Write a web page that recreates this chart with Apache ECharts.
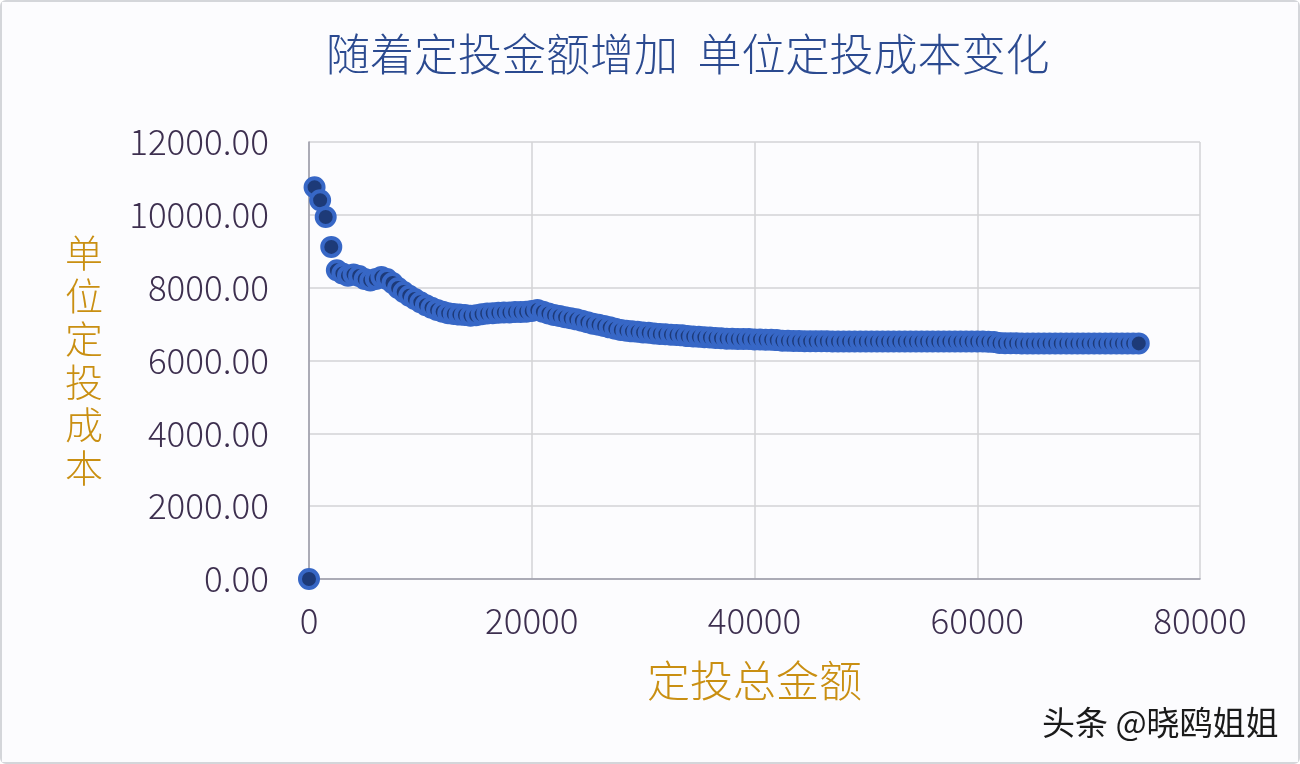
<!DOCTYPE html>
<html>
<head>
<meta charset="utf-8">
<script src="https://cdn.jsdelivr.net/npm/echarts@6/dist/echarts.min.js"></script>
<style>
html,body{margin:0;padding:0;background:#fff;}
#wrap{position:absolute;left:0;top:0;width:1296px;height:760px;border:2px solid #d4d6da;border-radius:6px;background:#fcfcfe;}
#chart{width:1296px;height:760px;}
</style>
</head>
<body>
<div id="wrap"><div id="chart"></div></div>
<script>
// Data
const totalAmount = [
  0, 500, 1000, 1500, 2000, 2500, 3000, 3500, 4000, 4500,
  5000, 5500, 6000, 6500, 7000, 7500, 8000, 8500, 9000, 9500,
  10000, 10500, 11000, 11500, 12000, 12500, 13000, 13500, 14000, 14500,
  15000, 15500, 16000, 16500, 17000, 17500, 18000, 18500, 19000, 19500,
  20000, 20500, 21000, 21500, 22000, 22500, 23000, 23500, 24000, 24500,
  25000, 25500, 26000, 26500, 27000, 27500, 28000, 28500, 29000, 29500,
  30000, 30500, 31000, 31500, 32000, 32500, 33000, 33500, 34000, 34500,
  35000, 35500, 36000, 36500, 37000, 37500, 38000, 38500, 39000, 39500,
  40000, 40500, 41000, 41500, 42000, 42500, 43000, 43500, 44000, 44500,
  45000, 45500, 46000, 46500, 47000, 47500, 48000, 48500, 49000, 49500,
  50000, 50500, 51000, 51500, 52000, 52500, 53000, 53500, 54000, 54500,
  55000, 55500, 56000, 56500, 57000, 57500, 58000, 58500, 59000, 59500,
  60000, 60500, 61000, 61500, 62000, 62500, 63000, 63500, 64000, 64500,
  65000, 65500, 66000, 66500, 67000, 67500, 68000, 68500, 69000, 69500,
  70000, 70500, 71000, 71500, 72000, 72500, 73000, 73500, 74000, 74500
];
const unitCost = [
  0, 10760, 10400, 9940, 9120, 8480, 8390, 8330, 8360, 8320,
  8240, 8200, 8240, 8290, 8240, 8130, 7990, 7880, 7780, 7690,
  7600, 7520, 7450, 7390, 7340, 7300, 7280, 7260, 7250, 7230,
  7240, 7270, 7290, 7300, 7310, 7320, 7320, 7330, 7330, 7340,
  7360, 7390, 7340, 7290, 7250, 7220, 7190, 7160, 7130, 7090,
  7050, 7010, 6980, 6950, 6910, 6870, 6840, 6820, 6800, 6790,
  6770, 6760, 6740, 6730, 6720, 6710, 6700, 6690, 6670, 6660,
  6650, 6640, 6630, 6620, 6610, 6600, 6600, 6590, 6590, 6590,
  6580, 6580, 6570, 6570, 6560, 6540, 6540, 6535, 6535, 6530,
  6530, 6530, 6530, 6530, 6525, 6525, 6525, 6525, 6525, 6525,
  6525, 6525, 6525, 6520, 6520, 6520, 6520, 6520, 6520, 6520,
  6520, 6520, 6520, 6520, 6520, 6520, 6520, 6520, 6520, 6520,
  6520, 6520, 6515, 6510, 6480, 6475, 6475, 6475, 6470, 6470,
  6470, 6470, 6470, 6470, 6470, 6470, 6470, 6470, 6470, 6470,
  6470, 6470, 6470, 6470, 6470, 6470, 6470, 6470, 6470, 6470
];
const xTicks = [0, 20000, 40000, 60000, 80000];
const yTicks = [0, 2000, 4000, 6000, 8000, 10000, 12000];

const chartTitle = '随着定投金额增加  单位定投成本变化';
const xName = '定投总金额';
const yName = '单位定投成本';
const watermark = '头条 @晓鸥姐姐';

const points = totalAmount.map((x, i) => [x, unitCost[i]]);
const FONT = '"Noto Sans CJK SC", "Noto Sans", sans-serif';

const chart = echarts.init(document.getElementById('chart'), null, {renderer: 'canvas'});
chart.setOption({
  backgroundColor: '#fcfcfe',
  animation: false,
  title: {
    text: chartTitle,
    left: 319,
    top: 25,
    textStyle: {fontFamily: FONT, fontSize: 44, fontWeight: 300, color: '#2b4a90'}
  },
  grid: {left: 307, right: 98, top: 140, bottom: 183, containLabel: false},
  xAxis: {
    type: 'value',
    min: xTicks[0],
    max: xTicks[xTicks.length - 1],
    interval: 20000,
    name: xName,
    nameLocation: 'middle',
    nameGap: 80,
    nameTextStyle: {fontFamily: FONT, fontSize: 43, fontWeight: 300, color: '#c98f12'},
    axisLine: {show: true, lineStyle: {color: '#9a9aa8', width: 1.5}},
    axisTick: {show: false},
    axisLabel: {margin: 24, fontFamily: FONT, fontSize: 35, fontWeight: 300, color: '#3d2f4f',
      formatter: v => String(v)},
    splitLine: {show: true, lineStyle: {color: '#d3d3d6', width: 1.5}}
  },
  yAxis: {
    type: 'value',
    min: yTicks[0],
    max: yTicks[yTicks.length - 1],
    interval: 2000,
    name: yName.split('').join('\n'),
    nameLocation: 'middle',
    nameRotate: 0,
    nameGap: 206,
    nameTextStyle: {fontFamily: FONT, fontSize: 38, fontWeight: 300, color: '#c98f12', lineHeight: 43},
    axisLine: {show: true, lineStyle: {color: '#9a9aa8', width: 1.5}},
    axisTick: {show: false},
    axisLabel: {
      margin: 40, fontFamily: FONT, fontSize: 35, fontWeight: 300, color: '#3d2f4f',
      formatter: v => v.toFixed(2)
    },
    splitLine: {show: true, lineStyle: {color: '#d3d3d6', width: 1.5}}
  },
  series: [{
    type: 'scatter',
    data: points,
    symbol: 'circle',
    symbolSize: 18,
    itemStyle: {color: '#1d3a78', borderColor: '#3767c6', borderWidth: 4, opacity: 1}
  }],
  graphic: [{
    type: 'text',
    left: 1040,
    top: 704,
    style: {
      text: watermark,
      font: '33px ' + FONT,
      fill: '#1a1a1a',
      textShadowColor: 'rgba(255,255,255,0.95)',
      textShadowOffsetX: 2,
      textShadowOffsetY: 2,
      textShadowBlur: 0
    }
  }]
});
</script>
</body>
</html>
